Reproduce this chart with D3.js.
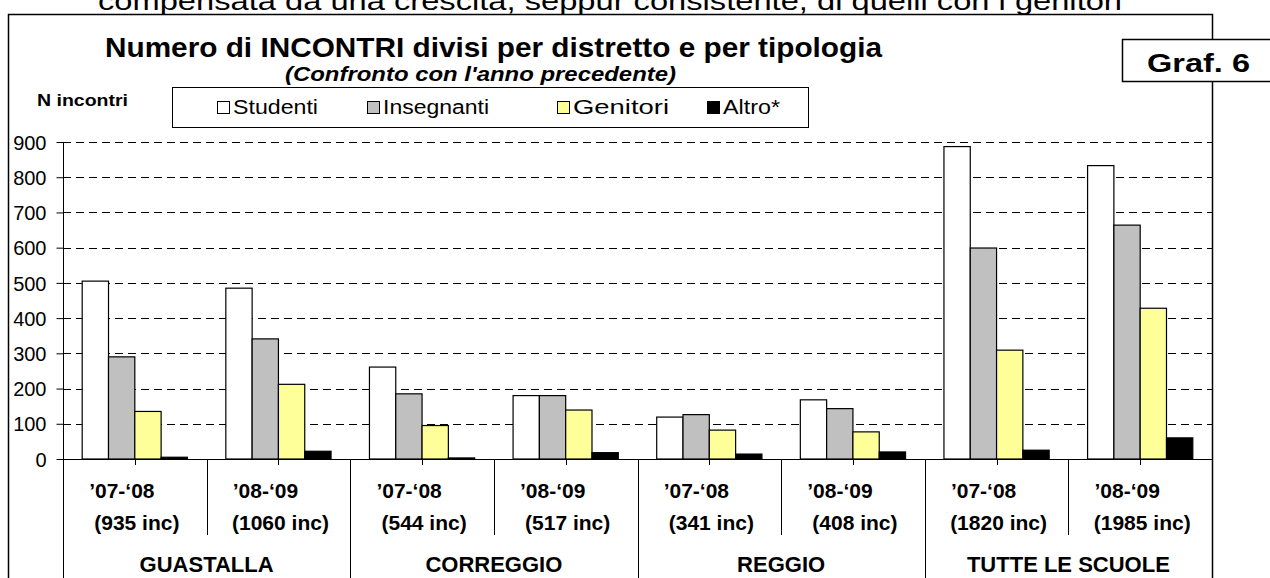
<!DOCTYPE html>
<meta charset="utf-8">
<script src="https://cdn.jsdelivr.net/npm/d3@7"></script>
<style>
body{margin:0; background:#fff;}
text{font-family:"Liberation Sans", Arial, sans-serif;}
</style>
<div id="vis"></div>
<script>
// data
var districts = ["GUASTALLA", "CORREGGIO", "REGGIO", "TUTTE LE SCUOLE"];
var years = ["\u201907-\u201808", "\u201908-\u201809"];
var totals = [935, 1060, 544, 517, 341, 408, 1820, 1985];
var series = ["Studenti", "Insegnanti", "Genitori", "Altro*"];
var studenti   = [505, 485, 261, 180, 119, 168, 887, 833];
var insegnanti = [290, 341, 185, 180, 126, 143, 599, 664];
var genitori   = [135, 212,  95, 139,  82,  77, 309, 428];
var altro      = [  5,  22,   3,  18,  14,  20,  25,  60];
var yTicks = [0, 100, 200, 300, 400, 500, 600, 700, 800, 900];

var colors = ["#ffffff", "#c0c0c0", "#ffff99", "#000000"];
var values = [studenti, insegnanti, genitori, altro];

var width = 1270, height = 578;
var left = 63, right = 1212, y0 = 459, yTop = 142;

var svg = d3.select("#vis").append("svg")
    .attr("width", width).attr("height", height);

// stretched text helper (reference text is drawn a bit wide)
function label(x, y, str, size, len, weight, style) {
  var t = svg.append("text")
      .attr("x", x).attr("y", y)
      .style("font-size", size + "px")
      .style("font-weight", weight || "normal")
      .style("font-style", style || "normal")
      .text(str);
  if (len) t.attr("textLength", len).attr("lengthAdjust", "spacingAndGlyphs");
  return t;
}

// text of the page above the chart (cut off at the top)
label(98, 10, "compensata da una crescita, seppur consistente, di quelli con i genitori", 26, 1024);

// chart frame
svg.append("path")
    .attr("d", "M8.5,600V14.5H" + (right + 0.5) + "V600")
    .attr("fill", "none").attr("stroke", "#000").attr("stroke-width", 1.5);

var groups = d3.range(totals.length);
var x0 = d3.scaleBand().domain(groups).range([left, right]);
var x1 = d3.scaleBand().domain(series).range([0, x0.bandwidth()]).paddingOuter(0.73);
var y = d3.scaleLinear().domain([0, 900]).range([y0, yTop]);

// gridlines
svg.append("g").selectAll("line")
  .data(yTicks.filter(function(d) { return d > 0; }))
  .enter().append("line")
    .attr("x1", left).attr("x2", right)
    .attr("y1", function(d) { return Math.round(y(d)) + 0.5; })
    .attr("y2", function(d) { return Math.round(y(d)) + 0.5; })
    .attr("stroke", "#000").attr("stroke-dasharray", "8,5");

// y axis
var yAxis = svg.append("g")
    .attr("transform", "translate(" + (left + 0.5) + ",0)")
    .call(d3.axisLeft(y).tickValues(yTicks).tickSize(7).tickFormat(d3.format("d")));
yAxis.select(".domain").remove();
yAxis.selectAll("line").attr("stroke", "#000");
yAxis.selectAll("text")
    .attr("x", -17).style("font-size", "20px").attr("fill", "#000")
    .attr("dy", "0.36em");

svg.append("line")
    .attr("x1", left + 0.5).attr("x2", left + 0.5)
    .attr("y1", yTop).attr("y2", height)
    .attr("stroke", "#000");

// bars
var bars = svg.append("g").selectAll("g")
  .data(groups).enter().append("g")
    .attr("transform", function(g) { return "translate(" + x0(g) + ",0)"; });

bars.selectAll("rect")
  .data(function(g) { return series.map(function(s, i) { return {s: s, i: i, v: values[i][g]}; }); })
  .enter().append("rect")
    .attr("x", function(d) { return x1(d.s); })
    .attr("y", function(d) { return y(d.v); })
    .attr("width", x1.bandwidth())
    .attr("height", function(d) { return y0 - y(d.v); })
    .attr("fill", function(d) { return colors[d.i]; })
    .attr("stroke", "#000").attr("stroke-width", 1.2);

// x axis line
svg.append("line")
    .attr("x1", left).attr("x2", right)
    .attr("y1", y0 + 0.5).attr("y2", y0 + 0.5)
    .attr("stroke", "#000").attr("stroke-width", 1.2);

// ticks at group centres
svg.append("g").selectAll("line")
  .data(groups).enter().append("line")
    .attr("x1", function(g) { return Math.round(x0(g) + x0.bandwidth() / 2) + 0.5; })
    .attr("x2", function(g) { return Math.round(x0(g) + x0.bandwidth() / 2) + 0.5; })
    .attr("y1", y0).attr("y2", y0 + 6)
    .attr("stroke", "#000");

// separators between years and between districts
svg.append("g").selectAll("line")
  .data(d3.range(1, totals.length + 1)).enter().append("line")
    .attr("x1", function(g) { return Math.round(left + g * x0.step()) + 0.5; })
    .attr("x2", function(g) { return Math.round(left + g * x0.step()) + 0.5; })
    .attr("y1", y0)
    .attr("y2", function(g) { return g % 2 === 0 ? height : 535; })
    .attr("stroke", "#000");

// year labels
var lab = svg.append("g").selectAll("g")
  .data(groups).enter().append("g")
    .attr("transform", function(g) { return "translate(" + (x0(g) + x0.bandwidth() / 2) + ",0)"; })
    .style("font-size", "21px").style("font-weight", "bold")
    .attr("text-anchor", "middle");
lab.append("text").attr("x", -13).attr("y", 498)
    .text(function(g) { return years[g % 2]; });
lab.append("text").attr("x", 2).attr("y", 530)
    .text(function(g) { return "(" + totals[g] + " inc)"; });

// district labels
svg.append("g").selectAll("text")
  .data(districts).enter().append("text")
    .attr("x", function(d, i) { return left + (i * 2 + 1) * x0.step(); })
    .attr("y", 572)
    .attr("text-anchor", "middle")
    .style("font-size", "22px").style("font-weight", "bold")
    .text(function(d) { return d; });

// titles
label(105, 57, "Numero di INCONTRI divisi per distretto e per tipologia", 28, 777, "bold");
label(285, 81, "(Confronto con l'anno precedente)", 20, 391, "bold", "italic");
label(37, 106, "N incontri", 16, 91, "bold");

// Graf. 6 box
svg.append("rect")
    .attr("x", 1122.5).attr("y", 39.5).attr("width", 160).attr("height", 42)
    .attr("fill", "#fff").attr("stroke", "#000").attr("stroke-width", 1.5);
label(1147, 72, "Graf. 6", 26, 103, "bold");

// legend
var legendX = [217, 367, 557, 707];
var legendLen = [85, 106, 96, 57];
svg.append("rect")
    .attr("x", 172.5).attr("y", 87.5).attr("width", 636).attr("height", 40)
    .attr("fill", "#fff").attr("stroke", "#000");
series.forEach(function(s, i) {
  svg.append("rect")
      .attr("x", legendX[i] + 0.5).attr("y", 101.5).attr("width", 12).attr("height", 12)
      .attr("fill", colors[i]).attr("stroke", "#000");
  label(legendX[i] + 16, 114, s, 20, legendLen[i]);
});
</script>
